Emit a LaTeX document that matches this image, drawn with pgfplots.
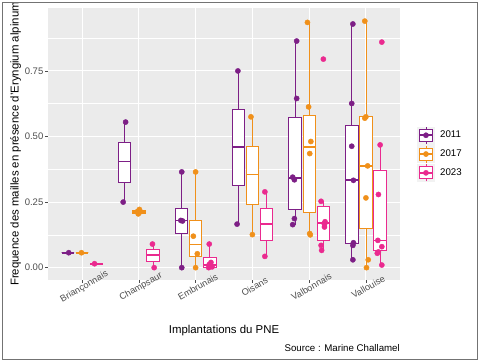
\documentclass[border=0pt]{standalone}
\usepackage{pgfplots}
\pgfplotsset{compat=1.18}
\usepgfplotslibrary{statistics}
\usepackage{fontspec}
\setmainfont{Liberation Sans}
\definecolor{cA}{HTML}{7D1F86}
\definecolor{cB}{HTML}{F0901A}
\definecolor{cC}{HTML}{EA2A8F}
\definecolor{panel}{HTML}{EBEBEB}
\definecolor{tickc}{HTML}{4D4D4D}
\definecolor{keybg}{HTML}{F2F2F2}
\pgfplotsset{
  ybox/.style n args={7}{
    boxplot prepared={draw direction=y, draw position=#2, lower whisker=#3, lower quartile=#4,
      median=#5, upper quartile=#6, upper whisker=#7, box extend=0.22, whisker extend=0,
      every median/.style={line width=1.7pt}},
    draw=#1, fill=white, line width=0.8pt, solid, mark=none},
  ypts/.style={only marks, mark=*, mark size=2.6pt, color=#1, mark options={draw=#1, fill=#1}},
  ykey/.style={legend image code/.code={
      \fill[keybg] (0pt,-8.5pt) rectangle (17pt,8.5pt);
      \draw[#1, line width=0.8pt] (8.5pt,-8.5pt)--(8.5pt,8.5pt);
      \draw[#1, line width=0.8pt, fill=white] (2pt,-6pt) rectangle (15pt,6pt);
      \draw[#1, line width=1.7pt] (2pt,0pt)--(15pt,0pt);
      \fill[#1] (8.5pt,0pt) circle (2.6pt);}}
}
\begin{document}
\begin{tikzpicture}
\begin{axis}[
  at={(48pt,83pt)}, anchor=south west,
  scale only axis, width=352pt, height=272pt,
  xmin=0.4, xmax=6.6, ymin=-0.047, ymax=0.99,
  clip=false,
  axis background/.style={fill=panel},
  axis line style={draw=none},
  xtick={1,2,3,4,5,6},
  xticklabels={Briançonnais,Champsaur,Embrunais,Oisans,Valbonnais,Vallouise},
  ytick={0,0.25,0.5,0.75},
  yticklabels={0.00,0.25,0.50,0.75},
  minor ytick={0.125,0.375,0.625,0.875},
  xmajorgrids, ymajorgrids, yminorgrids,
  major grid style={white, line width=1.1pt},
  minor grid style={white, line width=0.55pt},
  tick align=outside, tick pos=left,
  major tick length=3pt, minor tick length=0pt,
  tick style={tickc, line width=0.6pt},
  /pgf/number format/assume math mode=true,
  yticklabel style={font=\fontsize{9.5}{11}\selectfont, text=tickc, inner sep=1.5pt},
  xticklabel style={font=\fontsize{9.2}{11}\selectfont, text=tickc, rotate=30, anchor=center, yshift=-4.5pt},
  xlabel={Implantations du PNE},
  ylabel={Frequence des mailles en présence d'Eryngium alpinum},
  every axis x label/.style={at={(axis description cs:0.5,-0.1875)}, anchor=center, font=\fontsize{11.4}{13}\selectfont},
  every axis y label/.style={at={(axis description cs:-0.0923,0.5)}, rotate=90, anchor=center, font=\fontsize{11.4}{13}\selectfont},
  legend style={at={(1.04,0.463)}, anchor=west, draw=none, fill=none,
    font=\fontsize{9.7}{11}\selectfont, row sep=1pt,
    nodes={inner sep=0.5pt},
    /tikz/every odd column/.append style={column sep=5pt}},
  legend cell align=left,
]
\addlegendimage{ykey=cA}
\addlegendimage{ykey=cB}
\addlegendimage{ykey=cC}
% 2011 boxes
\addplot[ybox={cA}{0.75}{0.057}{0.057}{0.057}{0.057}{0.057}] coordinates {};
\addplot[ybox={cA}{1.75}{0.25}{0.324}{0.405}{0.479}{0.555}] coordinates {};
\addplot[ybox={cA}{2.75}{0}{0.132}{0.18}{0.226}{0.365}] coordinates {};
\addplot[ybox={cA}{3.75}{0.166}{0.313}{0.459}{0.604}{0.75}] coordinates {};
\addplot[ybox={cA}{4.75}{0.164}{0.222}{0.343}{0.573}{0.864}] coordinates {};
\addplot[ybox={cA}{5.75}{0.03}{0.091}{0.333}{0.543}{0.929}] coordinates {};
% 2017 boxes
\addplot[ybox={cB}{1}{0.057}{0.057}{0.057}{0.057}{0.057}] coordinates {};
\addplot[ybox={cB}{2}{0.205}{0.207}{0.213}{0.219}{0.222}] coordinates {};
\addplot[ybox={cB}{3}{0}{0.043}{0.088}{0.18}{0.365}] coordinates {};
\addplot[ybox={cB}{4}{0.126}{0.24}{0.355}{0.463}{0.575}] coordinates {};
\addplot[ybox={cB}{5}{0.127}{0.21}{0.459}{0.579}{0.935}] coordinates {};
\addplot[ybox={cB}{6}{0}{0.149}{0.388}{0.575}{0.941}] coordinates {};
% 2023 boxes
\addplot[ybox={cC}{1.25}{0.015}{0.015}{0.015}{0.015}{0.015}] coordinates {};
\addplot[ybox={cC}{2.25}{0}{0.022}{0.047}{0.069}{0.09}] coordinates {};
\addplot[ybox={cC}{3.25}{0}{0.0}{0.009}{0.04}{0.09}] coordinates {};
\addplot[ybox={cC}{4.25}{0.043}{0.103}{0.166}{0.226}{0.289}] coordinates {};
\addplot[ybox={cC}{5.25}{0.066}{0.104}{0.17}{0.235}{0.253}] coordinates {};
\addplot[ybox={cC}{6.25}{0.009}{0.066}{0.104}{0.371}{0.468}] coordinates {};
% points
\addplot[ypts=cA] coordinates {
(0.765,0.057)
(1.767,0.555) (1.724,0.25)
(2.756,0.365) (2.74,0.18) (2.77,0.178) (2.756,0.0)
(3.745,0.75) (3.73,0.166)
(4.78,0.864) (4.78,0.645) (4.71,0.345) (4.74,0.335) (4.74,0.187) (4.71,0.164)
(5.77,0.929) (5.75,0.626) (5.75,0.463) (5.78,0.333) (5.78,0.095) (5.77,0.085) (5.77,0.03)
};
\addplot[ypts=cB] coordinates {
(0.99,0.057)
(1.99,0.205) (2.01,0.222) (2.03,0.213) (1.98,0.215)
(3.0,0.365) (2.96,0.12) (3.03,0.053) (3.0,0.0)
(3.975,0.575) (4.0,0.126)
(4.97,0.935) (4.99,0.613) (5.03,0.481) (5.01,0.435) (5.01,0.13) (5.02,0.125)
(5.98,0.94) (6.0,0.575) (5.98,0.57) (6.03,0.388) (6.0,0.266) (6.04,0.03) (6.01,0.0)
};
\addplot[ypts=cC] coordinates {
(1.22,0.015)
(2.24,0.09) (2.27,0.0)
(3.24,0.09) (3.27,0.02) (3.24,0.012) (3.23,0.0) (3.29,0.003)
(4.22,0.289) (4.22,0.043)
(5.25,0.795) (5.21,0.253) (5.28,0.175) (5.27,0.165) (5.27,0.155) (5.21,0.085) (5.22,0.066)
(6.28,0.86) (6.25,0.468) (6.22,0.279) (6.21,0.104) (6.28,0.08) (6.22,0.06) (6.2,0.055) (6.28,0.01)
};
\legend{2011,2017,2023}
\node[anchor=east, font=\fontsize{9.7}{11}\selectfont, inner sep=0pt] at (axis description cs:1,-0.25) {Source : Marine Challamel};
\end{axis}
\draw[black!55, line width=1pt] (2.5pt,3pt) rectangle (477pt,360pt);
\pgfresetboundingbox
\useasboundingbox (0pt,0pt) rectangle (480pt,363pt);
\end{tikzpicture}
\end{document}
